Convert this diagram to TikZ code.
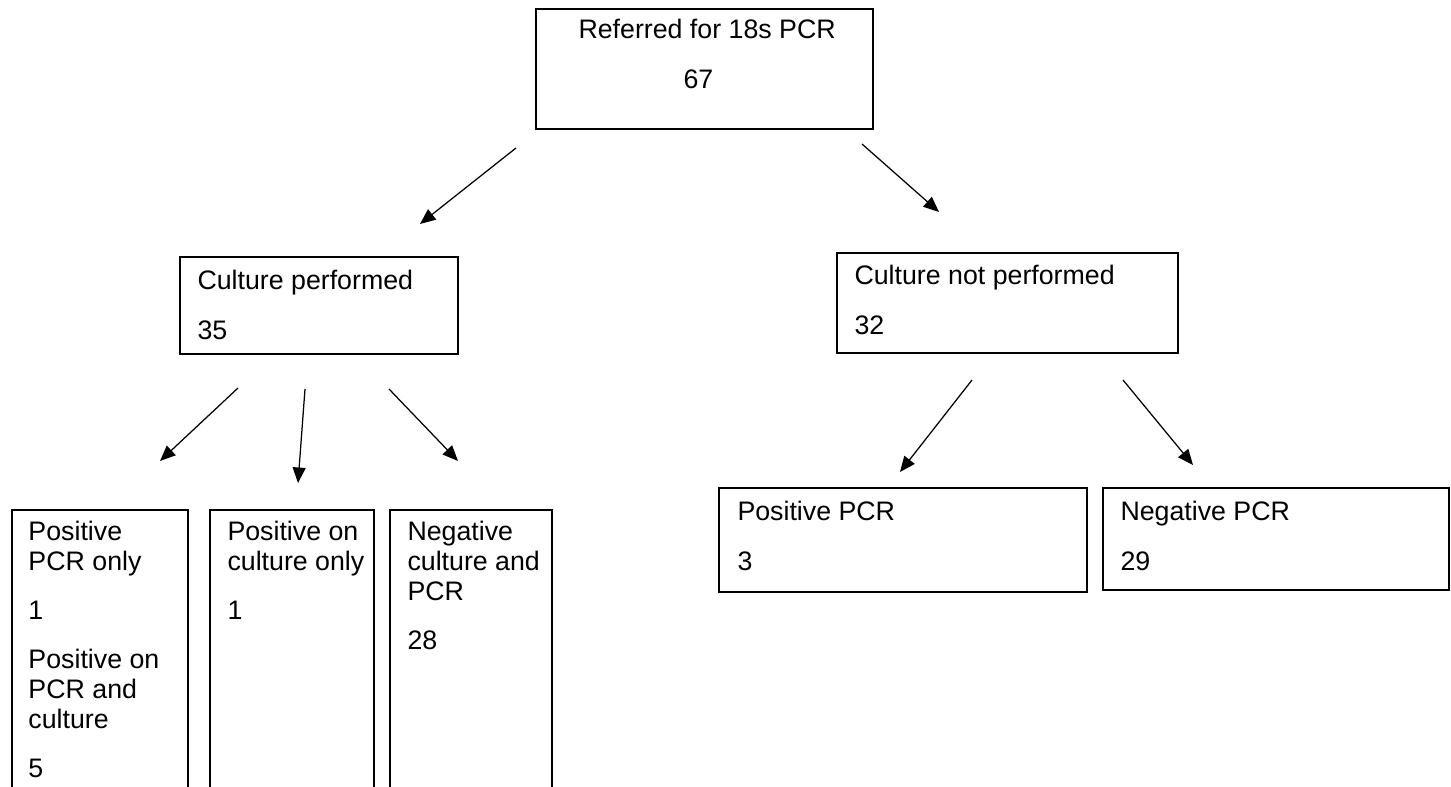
\documentclass[tikz,border=0pt]{standalone}
\usepackage{fontspec}
\setmainfont{Liberation Sans}
\usetikzlibrary{arrows.meta}

\tikzset{
  box/.style = {draw, line width = 0.75pt, anchor = north west, inner sep = 0pt},
  txt/.style = {anchor = north west, align = left, inner sep = 0pt,
    font = \fontsize{10.7}{12}\selectfont, execute at begin node = {\strut}},
  arr/.style = {-{Triangle[length = 6.2pt, width = 5.2pt]}, line width = 0.5pt}
}

\begin{document}
\begin{tikzpicture}[x = 0.4pt, y = -0.4pt]
  \useasboundingbox (0, 0) rectangle (1451, 786);

  \node[box, minimum width = 337*0.4pt, minimum height = 120*0.4pt] (Ref) at (535, 8) {};
  \node[box, minimum width = 278*0.4pt, minimum height = 97*0.4pt] (CP) at (179, 256) {};
  \node[box, minimum width = 341*0.4pt, minimum height = 100*0.4pt] (CNP) at (836, 252) {};
  \node[box, minimum width = 176*0.4pt, minimum height = 300*0.4pt] (PosOnly) at (11, 509) {};
  \node[box, minimum width = 164*0.4pt, minimum height = 300*0.4pt] (CultOnly) at (209, 509) {};
  \node[box, minimum width = 162*0.4pt, minimum height = 300*0.4pt] (NegBoth) at (389, 509) {};
  \node[box, minimum width = 368*0.4pt, minimum height = 104*0.4pt] (PosPCR) at (718, 487) {};
  \node[box, minimum width = 346*0.4pt, minimum height = 102*0.4pt] (NegPCR) at (1102, 487) {};

  % texts: top of node = first baseline - 21
  \node[txt] (RefT) at (578, 19) {Referred for 18s PCR\\[8pt]\hspace*{42pt}67};
  \node[txt] (CPT) at (197, 270) {Culture performed\\[8pt]35};
  \node[txt] (CNPT) at (854, 265) {Culture not performed\\[8pt]32};
  \node[txt] (PosOnlyT) at (28, 521)
    {Positive\\PCR only\\[7.6pt]1\\[7.6pt]Positive on\\PCR and\\culture\\[7.6pt]5};
  \node[txt] (CultOnlyT) at (227, 521) {Positive on\\culture only\\[7.6pt]1};
  \node[txt] (NegBothT) at (407, 521) {Negative\\culture and\\PCR\\[7.6pt]28};
  \node[txt] (PosPCRT) at (737, 501) {Positive PCR\\[8pt]3};
  \node[txt] (NegPCRT) at (1120, 501) {Negative PCR\\[8pt]29};

  % arrow ends
  \coordinate (a1) at (516, 148);  \coordinate (b1) at (420, 224);
  \coordinate (a2) at (862, 144);  \coordinate (b2) at (939, 212);
  \coordinate (a3) at (238, 388);  \coordinate (b3) at (160, 461);
  \coordinate (a4) at (305, 389);  \coordinate (b4) at (298, 483);
  \coordinate (a5) at (389, 389);  \coordinate (b5) at (458, 461);
  \coordinate (a6) at (972, 380);  \coordinate (b6) at (900, 472);
  \coordinate (a7) at (1123, 380); \coordinate (b7) at (1193, 465);

  \draw[arr] (a1) -- (b1);
  \draw[arr] (a2) -- (b2);
  \draw[arr] (a3) -- (b3);
  \draw[arr] (a4) -- (b4);
  \draw[arr] (a5) -- (b5);
  \draw[arr] (a6) -- (b6);
  \draw[arr] (a7) -- (b7);

\end{tikzpicture}
\end{document}
